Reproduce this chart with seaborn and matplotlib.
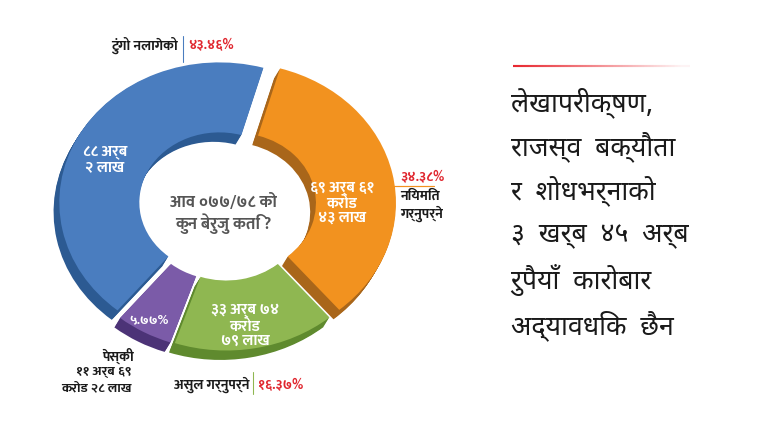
import matplotlib
matplotlib.use("Agg")
import matplotlib.pyplot as plt
import numpy as np
import seaborn as sns

# ---------------- data ----------------
categories = ["नियमित गर्नुपर्ने", "असुल गर्नुपर्ने", "पेस्की", "टुंगो नलागेको"]
shares = [34.38, 16.37, 5.77, 43.46]
pct_labels = ["३४.३८%", "१६.३७%", "५.७७%", "४३.४६%"]
amount_labels = ["६९ अर्ब ६१\nकरोड\n४३ लाख", "३३ अर्ब ७४\nकरोड\n७९ लाख",
                 "११ अर्ब ६९\nकरोड २८ लाख", "८८ अर्ब\n२ लाख"]
center_text = "आव ०७७/७८ को\nकुन बेरुजु कति ?"
headline = ["लेखापरीक्षण,", "राजस्व  बक्यौता", "र  शोधभर्नाको",
            "३  खर्ब  ४५  अर्ब", "रुपैयाँ  कारोबार", "अद्यावधिक  छैन"]

top_colors = ["#f2921f", "#8fb751", "#7b5ba8", "#4a7dbf"]
side_colors = ["#a9661a", "#5f8a2e", "#4c3377", "#2c5a92"]

sns.set_theme(style="white")
DEV = ["Noto Sans Devanagari", "Mukta", "Hind", "Ek Mukta", "DejaVu Sans"]
BOLDF = ["Mukta", "Ek Mukta", "Biryani", "Noto Sans Devanagari", "DejaVu Sans"]
plt.rcParams["font.family"] = DEV

W, H = 768, 432
fig = plt.figure(figsize=(W / 96, H / 96), dpi=96)
fig.patch.set_facecolor("white")

# donut centre at pixel (225,205); x:160 px/unit, y:140 px/unit
CX, CY, SX, SY = 225, 205, 160, 140
ax = fig.add_axes([0, 0, 1, 1])
ax.axis("off")

explode = [0.07, 0.04, 0.04, 0.04]
start = 74
ring = 0.5
for k in range(9, 0, -1):
    ax.pie(shares, colors=side_colors, startangle=start, counterclock=False,
           explode=explode, radius=1.0, center=(-0.004 * k, -0.0075 * k),
           wedgeprops=dict(width=ring, edgecolor="none", linewidth=0))
ax.pie(shares, colors=top_colors, startangle=start, counterclock=False,
       explode=explode, radius=1.0,
       wedgeprops=dict(width=ring, edgecolor="none", linewidth=0))
ax.set_aspect("auto")
ax.set_xlim(-CX / SX, (W - CX) / SX)
ax.set_ylim(-(H - CY) / SY, CY / SY)


def P(x, y):
    return x / W, 1 - y / H


def T(x, y, s, **kw):
    fig.text(*P(x, y), s, **kw)


bold = dict(fontweight="bold", color="#1a1a1a", fontsize=10.5, family=BOLDF)
red = dict(fontweight="bold", color="#e0262e", fontsize=10.5, family=BOLDF)
white = dict(fontweight="bold", color="white", fontsize=11.5, ha="center",
             va="center", linespacing=1.12, family=BOLDF)

# inside amounts
T(342, 203, amount_labels[0], **white)
T(245, 326, amount_labels[1], **white)
T(105, 160, amount_labels[3], **white)
T(149, 320, pct_labels[2], fontweight="bold", color="white", fontsize=10,
  ha="center", va="center", family=BOLDF)

# centre question
T(223, 214, center_text, ha="center", va="center", color="#555555",
  fontsize=12.5, fontweight="bold", linespacing=1.1, family=BOLDF)

# blue callout
fig.add_artist(plt.Line2D([183 / W, 183 / W], [1 - 36 / H, 1 - 62 / H],
                          color="#4a7dbf", lw=0.8))
T(178, 45, categories[3], ha="right", va="center", **bold)
T(188, 45, pct_labels[3], ha="left", va="center", **red)

# orange callout
fig.add_artist(plt.Line2D([390 / W, 434 / W], [1 - 186 / H, 1 - 186 / H],
                          color="#f2921f", lw=0.9))
T(400, 177, pct_labels[0], ha="left", va="center", **red)
T(400, 196, "नियमित", ha="left", va="center", **bold)
T(400, 214, "गर्नुपर्ने", ha="left", va="center", **bold)

# green callout
fig.add_artist(plt.Line2D([253 / W, 253 / W], [1 - 372 / H, 1 - 394 / H],
                          color="#8fb751", lw=0.8))
T(249, 385, categories[1], ha="right", va="center", **bold)
T(258, 385, pct_labels[1], ha="left", va="center", **red)

# purple callout
T(134, 356, categories[2], ha="right", va="center", **bold)
T(132, 372, "११ अर्ब ६९", ha="right", va="center", fontsize=10,
  fontweight="bold", color="#1a1a1a", family=BOLDF)
T(132, 388, "करोड २८ लाख", ha="right", va="center", fontsize=10,
  fontweight="bold", color="#1a1a1a", family=BOLDF)

# right side heading with fading red rule
xs = np.linspace(513, 690, 120)
for i in range(len(xs) - 1):
    a = 1 - i / (len(xs) - 1)
    fig.add_artist(plt.Line2D([xs[i] / W, xs[i + 1] / W], [1 - 66 / H, 1 - 66 / H],
                              color="#e8262e", alpha=max(a, 0.05), lw=1.6,
                              solid_capstyle="butt"))
ys = [103, 147, 191, 235, 280, 326]
for y, line in zip(ys, headline):
    T(511, y, line, ha="left", va="center", fontsize=20, color="#1a1a1a")

fig.savefig("out.png", dpi=96, facecolor="white")
